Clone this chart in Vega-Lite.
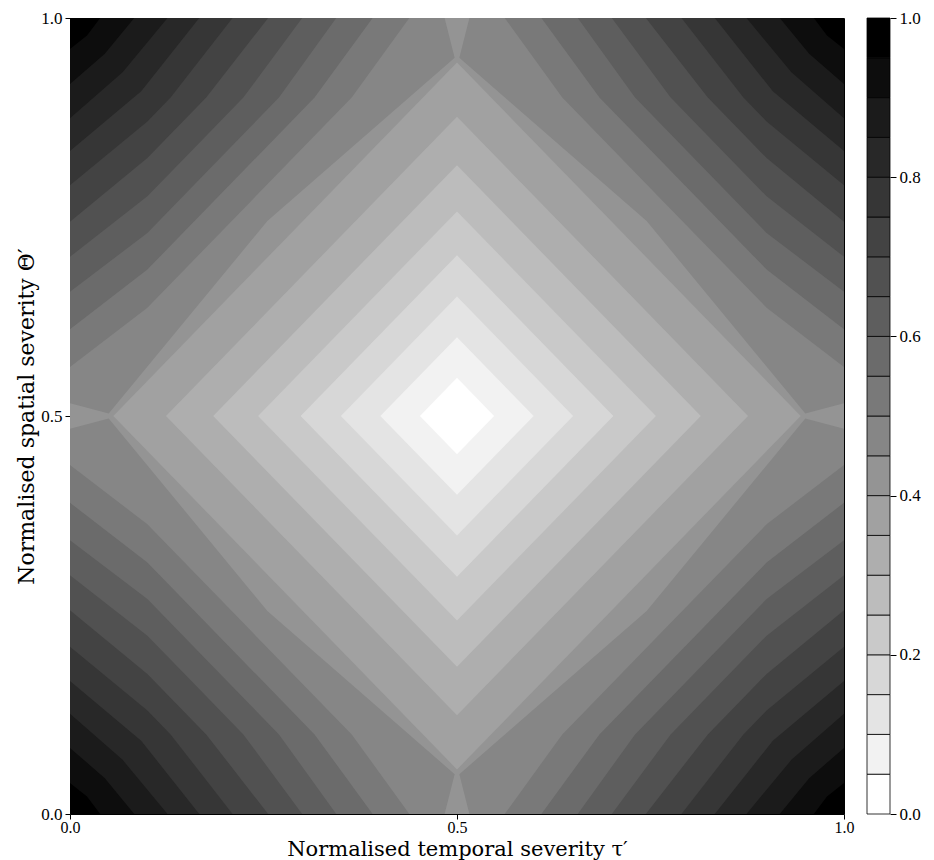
{
  "$schema": "https://vega.github.io/schema/vega-lite/v6.json",
  "background": "white",
  "padding": {"left": 15, "top": 8, "right": 5, "bottom": 5},
  "config": {
    "font": "Liberation Serif",
    "view": {"stroke": null},
    "axis": {"labelFont": "Liberation Serif", "titleFont": "DejaVu Serif", "labelColor": "#000", "titleColor": "#000", "tickColor": "#000", "domainColor": "#000", "labelFontSize": 17, "titleFontSize": 22, "titleFontWeight": "normal", "grid": false}
  },
  "spacing": 11,
  "datasets": {
    "poly": [
      {"lev": 1.0, "i": 0, "x": 0, "y": 0}, {"lev": 1.0, "i": 1, "x": 0, "y": 1}, {"lev": 1.0, "i": 2, "x": 1, "y": 1}, {"lev": 1.0, "i": 3, "x": 1, "y": 0},

      {"lev": 0.95, "i": 0, "x": 0, "y": 0.461}, {"lev": 0.95, "i": 1, "x": 0, "y": 0.539}, {"lev": 0.95, "i": 2, "x": 0, "y": 0.961}, {"lev": 0.95, "i": 3, "x": 0.022, "y": 0.978}, {"lev": 0.95, "i": 4, "x": 0.039, "y": 1}, {"lev": 0.95, "i": 5, "x": 0.961, "y": 1}, {"lev": 0.95, "i": 6, "x": 0.978, "y": 0.978}, {"lev": 0.95, "i": 7, "x": 1, "y": 0.961}, {"lev": 0.95, "i": 8, "x": 1, "y": 0.039}, {"lev": 0.95, "i": 9, "x": 0.978, "y": 0.022}, {"lev": 0.95, "i": 10, "x": 0.961, "y": 0}, {"lev": 0.95, "i": 11, "x": 0.039, "y": 0}, {"lev": 0.95, "i": 12, "x": 0.022, "y": 0.022}, {"lev": 0.95, "i": 13, "x": 0, "y": 0.039},

      {"lev": 0.9, "i": 0, "x": 0, "y": 0.5}, {"lev": 0.9, "i": 1, "x": 0, "y": 0.917}, {"lev": 0.9, "i": 2, "x": 0.045, "y": 0.955}, {"lev": 0.9, "i": 3, "x": 0.083, "y": 1}, {"lev": 0.9, "i": 4, "x": 0.917, "y": 1}, {"lev": 0.9, "i": 5, "x": 0.955, "y": 0.955}, {"lev": 0.9, "i": 6, "x": 1, "y": 0.917}, {"lev": 0.9, "i": 7, "x": 1, "y": 0.083}, {"lev": 0.9, "i": 8, "x": 0.955, "y": 0.045}, {"lev": 0.9, "i": 9, "x": 0.917, "y": 0}, {"lev": 0.9, "i": 10, "x": 0.083, "y": 0}, {"lev": 0.9, "i": 11, "x": 0.045, "y": 0.045}, {"lev": 0.9, "i": 12, "x": 0, "y": 0.083},

      {"lev": 0.85, "i": 0, "x": 0, "y": 0.5}, {"lev": 0.85, "i": 1, "x": 0, "y": 0.874}, {"lev": 0.85, "i": 2, "x": 0.068, "y": 0.932}, {"lev": 0.85, "i": 3, "x": 0.126, "y": 1}, {"lev": 0.85, "i": 4, "x": 0.874, "y": 1}, {"lev": 0.85, "i": 5, "x": 0.932, "y": 0.932}, {"lev": 0.85, "i": 6, "x": 1, "y": 0.874}, {"lev": 0.85, "i": 7, "x": 1, "y": 0.126}, {"lev": 0.85, "i": 8, "x": 0.932, "y": 0.068}, {"lev": 0.85, "i": 9, "x": 0.874, "y": 0}, {"lev": 0.85, "i": 10, "x": 0.126, "y": 0}, {"lev": 0.85, "i": 11, "x": 0.068, "y": 0.068}, {"lev": 0.85, "i": 12, "x": 0, "y": 0.126},

      {"lev": 0.8, "i": 0, "x": 0, "y": 0.5}, {"lev": 0.8, "i": 1, "x": 0, "y": 0.833}, {"lev": 0.8, "i": 2, "x": 0.092, "y": 0.908}, {"lev": 0.8, "i": 3, "x": 0.167, "y": 1}, {"lev": 0.8, "i": 4, "x": 0.833, "y": 1}, {"lev": 0.8, "i": 5, "x": 0.908, "y": 0.908}, {"lev": 0.8, "i": 6, "x": 1, "y": 0.833}, {"lev": 0.8, "i": 7, "x": 1, "y": 0.167}, {"lev": 0.8, "i": 8, "x": 0.908, "y": 0.092}, {"lev": 0.8, "i": 9, "x": 0.833, "y": 0}, {"lev": 0.8, "i": 10, "x": 0.167, "y": 0}, {"lev": 0.8, "i": 11, "x": 0.092, "y": 0.092}, {"lev": 0.8, "i": 12, "x": 0, "y": 0.167},

      {"lev": 0.75, "i": 0, "x": 0, "y": 0.21}, {"lev": 0.75, "i": 1, "x": 0, "y": 0.79}, {"lev": 0.75, "i": 2, "x": 0.1, "y": 0.87}, {"lev": 0.75, "i": 3, "x": 0.115, "y": 0.885}, {"lev": 0.75, "i": 4, "x": 0.13, "y": 0.9}, {"lev": 0.75, "i": 5, "x": 0.21, "y": 1}, {"lev": 0.75, "i": 6, "x": 0.79, "y": 1}, {"lev": 0.75, "i": 7, "x": 0.87, "y": 0.9}, {"lev": 0.75, "i": 8, "x": 0.885, "y": 0.885}, {"lev": 0.75, "i": 9, "x": 0.9, "y": 0.87}, {"lev": 0.75, "i": 10, "x": 1, "y": 0.79}, {"lev": 0.75, "i": 11, "x": 1, "y": 0.21}, {"lev": 0.75, "i": 12, "x": 0.9, "y": 0.13}, {"lev": 0.75, "i": 13, "x": 0.885, "y": 0.115}, {"lev": 0.75, "i": 14, "x": 0.87, "y": 0.1}, {"lev": 0.75, "i": 15, "x": 0.79, "y": 0}, {"lev": 0.75, "i": 16, "x": 0.21, "y": 0}, {"lev": 0.75, "i": 17, "x": 0.13, "y": 0.1}, {"lev": 0.75, "i": 18, "x": 0.115, "y": 0.115}, {"lev": 0.75, "i": 19, "x": 0.1, "y": 0.13},

      {"lev": 0.7, "i": 0, "x": 0, "y": 0.256}, {"lev": 0.7, "i": 1, "x": 0, "y": 0.744}, {"lev": 0.7, "i": 2, "x": 0.1, "y": 0.824}, {"lev": 0.7, "i": 3, "x": 0.138, "y": 0.862}, {"lev": 0.7, "i": 4, "x": 0.176, "y": 0.9}, {"lev": 0.7, "i": 5, "x": 0.256, "y": 1}, {"lev": 0.7, "i": 6, "x": 0.744, "y": 1}, {"lev": 0.7, "i": 7, "x": 0.824, "y": 0.9}, {"lev": 0.7, "i": 8, "x": 0.862, "y": 0.862}, {"lev": 0.7, "i": 9, "x": 0.9, "y": 0.824}, {"lev": 0.7, "i": 10, "x": 1, "y": 0.744}, {"lev": 0.7, "i": 11, "x": 1, "y": 0.256}, {"lev": 0.7, "i": 12, "x": 0.9, "y": 0.176}, {"lev": 0.7, "i": 13, "x": 0.862, "y": 0.138}, {"lev": 0.7, "i": 14, "x": 0.824, "y": 0.1}, {"lev": 0.7, "i": 15, "x": 0.744, "y": 0}, {"lev": 0.7, "i": 16, "x": 0.256, "y": 0}, {"lev": 0.7, "i": 17, "x": 0.176, "y": 0.1}, {"lev": 0.7, "i": 18, "x": 0.138, "y": 0.138}, {"lev": 0.7, "i": 19, "x": 0.1, "y": 0.176},

      {"lev": 0.65, "i": 0, "x": 0, "y": 0.3}, {"lev": 0.65, "i": 1, "x": 0, "y": 0.7}, {"lev": 0.65, "i": 2, "x": 0.1, "y": 0.776}, {"lev": 0.65, "i": 3, "x": 0.162, "y": 0.838}, {"lev": 0.65, "i": 4, "x": 0.224, "y": 0.9}, {"lev": 0.65, "i": 5, "x": 0.3, "y": 1}, {"lev": 0.65, "i": 6, "x": 0.7, "y": 1}, {"lev": 0.65, "i": 7, "x": 0.776, "y": 0.9}, {"lev": 0.65, "i": 8, "x": 0.838, "y": 0.838}, {"lev": 0.65, "i": 9, "x": 0.9, "y": 0.776}, {"lev": 0.65, "i": 10, "x": 1, "y": 0.7}, {"lev": 0.65, "i": 11, "x": 1, "y": 0.3}, {"lev": 0.65, "i": 12, "x": 0.9, "y": 0.224}, {"lev": 0.65, "i": 13, "x": 0.838, "y": 0.162}, {"lev": 0.65, "i": 14, "x": 0.776, "y": 0.1}, {"lev": 0.65, "i": 15, "x": 0.7, "y": 0}, {"lev": 0.65, "i": 16, "x": 0.3, "y": 0}, {"lev": 0.65, "i": 17, "x": 0.224, "y": 0.1}, {"lev": 0.65, "i": 18, "x": 0.162, "y": 0.162}, {"lev": 0.65, "i": 19, "x": 0.1, "y": 0.224},

      {"lev": 0.6, "i": 0, "x": 0, "y": 0.344}, {"lev": 0.6, "i": 1, "x": 0, "y": 0.656}, {"lev": 0.6, "i": 2, "x": 0.1, "y": 0.73}, {"lev": 0.6, "i": 3, "x": 0.185, "y": 0.815}, {"lev": 0.6, "i": 4, "x": 0.27, "y": 0.9}, {"lev": 0.6, "i": 5, "x": 0.344, "y": 1}, {"lev": 0.6, "i": 6, "x": 0.656, "y": 1}, {"lev": 0.6, "i": 7, "x": 0.73, "y": 0.9}, {"lev": 0.6, "i": 8, "x": 0.815, "y": 0.815}, {"lev": 0.6, "i": 9, "x": 0.9, "y": 0.73}, {"lev": 0.6, "i": 10, "x": 1, "y": 0.656}, {"lev": 0.6, "i": 11, "x": 1, "y": 0.344}, {"lev": 0.6, "i": 12, "x": 0.9, "y": 0.27}, {"lev": 0.6, "i": 13, "x": 0.815, "y": 0.185}, {"lev": 0.6, "i": 14, "x": 0.73, "y": 0.1}, {"lev": 0.6, "i": 15, "x": 0.656, "y": 0}, {"lev": 0.6, "i": 16, "x": 0.344, "y": 0}, {"lev": 0.6, "i": 17, "x": 0.27, "y": 0.1}, {"lev": 0.6, "i": 18, "x": 0.185, "y": 0.185}, {"lev": 0.6, "i": 19, "x": 0.1, "y": 0.27},

      {"lev": 0.55, "i": 0, "x": 0, "y": 0.391}, {"lev": 0.55, "i": 1, "x": 0, "y": 0.609}, {"lev": 0.55, "i": 2, "x": 0.1, "y": 0.684}, {"lev": 0.55, "i": 3, "x": 0.208, "y": 0.792}, {"lev": 0.55, "i": 4, "x": 0.316, "y": 0.9}, {"lev": 0.55, "i": 5, "x": 0.391, "y": 1}, {"lev": 0.55, "i": 6, "x": 0.609, "y": 1}, {"lev": 0.55, "i": 7, "x": 0.684, "y": 0.9}, {"lev": 0.55, "i": 8, "x": 0.792, "y": 0.792}, {"lev": 0.55, "i": 9, "x": 0.9, "y": 0.684}, {"lev": 0.55, "i": 10, "x": 1, "y": 0.609}, {"lev": 0.55, "i": 11, "x": 1, "y": 0.391}, {"lev": 0.55, "i": 12, "x": 0.9, "y": 0.316}, {"lev": 0.55, "i": 13, "x": 0.792, "y": 0.208}, {"lev": 0.55, "i": 14, "x": 0.684, "y": 0.1}, {"lev": 0.55, "i": 15, "x": 0.609, "y": 0}, {"lev": 0.55, "i": 16, "x": 0.391, "y": 0}, {"lev": 0.55, "i": 17, "x": 0.316, "y": 0.1}, {"lev": 0.55, "i": 18, "x": 0.208, "y": 0.208}, {"lev": 0.55, "i": 19, "x": 0.1, "y": 0.316},

      {"lev": 0.5, "i": 0, "x": 0, "y": 0.4384}, {"lev": 0.5, "i": 1, "x": 0, "y": 0.5616}, {"lev": 0.5, "i": 2, "x": 0.1, "y": 0.636}, {"lev": 0.5, "i": 3, "x": 0.232, "y": 0.768}, {"lev": 0.5, "i": 4, "x": 0.364, "y": 0.9}, {"lev": 0.5, "i": 5, "x": 0.4384, "y": 1}, {"lev": 0.5, "i": 6, "x": 0.5616, "y": 1}, {"lev": 0.5, "i": 7, "x": 0.636, "y": 0.9}, {"lev": 0.5, "i": 8, "x": 0.768, "y": 0.768}, {"lev": 0.5, "i": 9, "x": 0.9, "y": 0.636}, {"lev": 0.5, "i": 10, "x": 1, "y": 0.5616}, {"lev": 0.5, "i": 11, "x": 1, "y": 0.4384}, {"lev": 0.5, "i": 12, "x": 0.9, "y": 0.364}, {"lev": 0.5, "i": 13, "x": 0.768, "y": 0.232}, {"lev": 0.5, "i": 14, "x": 0.636, "y": 0.1}, {"lev": 0.5, "i": 15, "x": 0.5616, "y": 0}, {"lev": 0.5, "i": 16, "x": 0.4384, "y": 0}, {"lev": 0.5, "i": 17, "x": 0.364, "y": 0.1}, {"lev": 0.5, "i": 18, "x": 0.232, "y": 0.232}, {"lev": 0.5, "i": 19, "x": 0.1, "y": 0.364},

      {"lev": 0.45, "i": 0, "x": 0, "y": 0.5}, {"lev": 0.45, "i": 1, "x": 0, "y": 0.516}, {"lev": 0.45, "i": 2, "x": 0.05, "y": 0.503}, {"lev": 0.45, "i": 3, "x": 0.255, "y": 0.745}, {"lev": 0.45, "i": 4, "x": 0.497, "y": 0.95}, {"lev": 0.45, "i": 5, "x": 0.484, "y": 1}, {"lev": 0.45, "i": 6, "x": 0.516, "y": 1}, {"lev": 0.45, "i": 7, "x": 0.503, "y": 0.95}, {"lev": 0.45, "i": 8, "x": 0.745, "y": 0.745}, {"lev": 0.45, "i": 9, "x": 0.95, "y": 0.503}, {"lev": 0.45, "i": 10, "x": 1, "y": 0.516}, {"lev": 0.45, "i": 11, "x": 1, "y": 0.484}, {"lev": 0.45, "i": 12, "x": 0.95, "y": 0.497}, {"lev": 0.45, "i": 13, "x": 0.745, "y": 0.255}, {"lev": 0.45, "i": 14, "x": 0.503, "y": 0.05}, {"lev": 0.45, "i": 15, "x": 0.516, "y": 0}, {"lev": 0.45, "i": 16, "x": 0.484, "y": 0}, {"lev": 0.45, "i": 17, "x": 0.497, "y": 0.05}, {"lev": 0.45, "i": 18, "x": 0.255, "y": 0.255}, {"lev": 0.45, "i": 19, "x": 0.05, "y": 0.497}, {"lev": 0.45, "i": 20, "x": 0, "y": 0.484},

      {"lev": 0.4, "i": 0, "x": 0.056, "y": 0.5}, {"lev": 0.4, "i": 1, "x": 0.5, "y": 0.944}, {"lev": 0.4, "i": 2, "x": 0.944, "y": 0.5}, {"lev": 0.4, "i": 3, "x": 0.5, "y": 0.056},
      {"lev": 0.35, "i": 0, "x": 0.124, "y": 0.5}, {"lev": 0.35, "i": 1, "x": 0.5, "y": 0.876}, {"lev": 0.35, "i": 2, "x": 0.876, "y": 0.5}, {"lev": 0.35, "i": 3, "x": 0.5, "y": 0.124},
      {"lev": 0.3, "i": 0, "x": 0.185, "y": 0.5}, {"lev": 0.3, "i": 1, "x": 0.5, "y": 0.815}, {"lev": 0.3, "i": 2, "x": 0.815, "y": 0.5}, {"lev": 0.3, "i": 3, "x": 0.5, "y": 0.185},
      {"lev": 0.25, "i": 0, "x": 0.243, "y": 0.5}, {"lev": 0.25, "i": 1, "x": 0.5, "y": 0.757}, {"lev": 0.25, "i": 2, "x": 0.757, "y": 0.5}, {"lev": 0.25, "i": 3, "x": 0.5, "y": 0.243},
      {"lev": 0.2, "i": 0, "x": 0.298, "y": 0.5}, {"lev": 0.2, "i": 1, "x": 0.5, "y": 0.702}, {"lev": 0.2, "i": 2, "x": 0.702, "y": 0.5}, {"lev": 0.2, "i": 3, "x": 0.5, "y": 0.298},
      {"lev": 0.15, "i": 0, "x": 0.35, "y": 0.5}, {"lev": 0.15, "i": 1, "x": 0.5, "y": 0.65}, {"lev": 0.15, "i": 2, "x": 0.65, "y": 0.5}, {"lev": 0.15, "i": 3, "x": 0.5, "y": 0.35},
      {"lev": 0.1, "i": 0, "x": 0.401, "y": 0.5}, {"lev": 0.1, "i": 1, "x": 0.5, "y": 0.599}, {"lev": 0.1, "i": 2, "x": 0.599, "y": 0.5}, {"lev": 0.1, "i": 3, "x": 0.5, "y": 0.401},
      {"lev": 0.05, "i": 0, "x": 0.452, "y": 0.5}, {"lev": 0.05, "i": 1, "x": 0.5, "y": 0.548}, {"lev": 0.05, "i": 2, "x": 0.548, "y": 0.5}, {"lev": 0.05, "i": 3, "x": 0.5, "y": 0.452}
    ],
    "bands": [
      {"lo": 0.0, "lev": 0.05}, {"lo": 0.05, "lev": 0.1}, {"lo": 0.1, "lev": 0.15}, {"lo": 0.15, "lev": 0.2},
      {"lo": 0.2, "lev": 0.25}, {"lo": 0.25, "lev": 0.3}, {"lo": 0.3, "lev": 0.35}, {"lo": 0.35, "lev": 0.4},
      {"lo": 0.4, "lev": 0.45}, {"lo": 0.45, "lev": 0.5}, {"lo": 0.5, "lev": 0.55}, {"lo": 0.55, "lev": 0.6},
      {"lo": 0.6, "lev": 0.65}, {"lo": 0.65, "lev": 0.7}, {"lo": 0.7, "lev": 0.75}, {"lo": 0.75, "lev": 0.8},
      {"lo": 0.8, "lev": 0.85}, {"lo": 0.85, "lev": 0.9}, {"lo": 0.9, "lev": 0.95}, {"lo": 0.95, "lev": 1.0}
    ]
  },
  "hconcat": [
    {
      "width": 774,
      "height": 796,
      "view": {"stroke": "#000", "strokeWidth": 1},
      "data": {"name": "poly"},
      "mark": {"type": "line", "filled": true, "strokeWidth": 0, "clip": true, "interpolate": "linear"},
      "encoding": {
        "x": {"field": "x", "type": "quantitative", "scale": {"domain": [0, 1], "nice": false, "zero": false},
              "axis": {"values": [0, 0.5, 1], "format": ".1f", "labelFlush": false, "domain": false, "tickSize": 5, "labelPadding": 0, "labelFontSize": 16, "title": "Normalised temporal severity τ′", "titleFontSize": 21, "titlePadding": 3}},
        "y": {"field": "y", "type": "quantitative", "scale": {"domain": [0, 1], "nice": false, "zero": false},
              "axis": {"values": [0, 0.5, 1], "format": ".1f", "labelFlush": false, "domain": false, "tickSize": 5, "labelPadding": 3, "title": "Normalised spatial severity Θ′", "titlePadding": 2}},
        "color": {"field": "lev", "type": "quantitative", "scale": {"domain": [0.05, 1.0], "range": ["#ffffff", "#000000"], "interpolate": "rgb"}, "legend": null},
        "detail": {"field": "lev", "type": "quantitative"},
        "order": {"field": "i", "type": "quantitative"}
      }
    },
    {
      "width": 23,
      "height": 796,
      "data": {"name": "bands"},
      "mark": {"type": "rect", "stroke": "#000", "strokeWidth": 0.8},
      "encoding": {
        "y": {"field": "lo", "type": "quantitative", "scale": {"domain": [0, 1], "nice": false, "zero": false},
              "axis": {"orient": "right", "values": [0, 0.2, 0.4, 0.6, 0.8, 1.0], "format": ".1f", "labelFlush": false, "domain": false, "tickSize": 6, "labelPadding": 3, "title": null}},
        "y2": {"field": "lev"},
        "color": {"field": "lev", "type": "quantitative", "scale": {"domain": [0.05, 1.0], "range": ["#ffffff", "#000000"], "interpolate": "rgb"}, "legend": null}
      }
    }
  ]
}
